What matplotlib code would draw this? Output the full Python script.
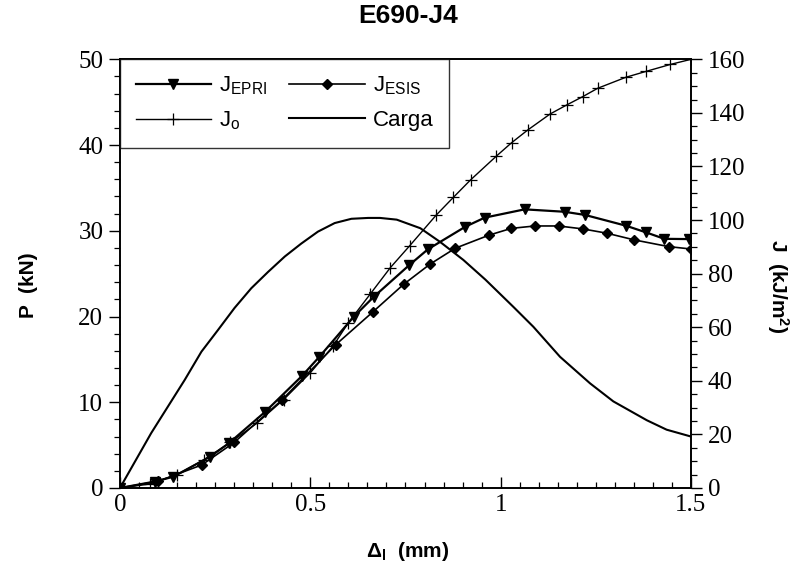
import numpy as np
import matplotlib
matplotlib.use("Agg")
import matplotlib.pyplot as plt
from matplotlib.ticker import MultipleLocator, FormatStrFormatter

plt.rcParams['mathtext.default'] = 'regular'

# Carga (P en kN)
d_carga = [0, 0.082, 0.126, 0.170, 0.214, 0.257, 0.301, 0.345, 0.389, 0.433,
           0.476, 0.520, 0.564, 0.608, 0.652, 0.683, 0.727, 0.789, 0.841, 0.902,
           0.960, 1.034, 1.086, 1.156, 1.235, 1.296, 1.384, 1.436, 1.50]
p_carga = [0, 6.4, 9.5, 12.6, 15.9, 18.4, 21.0, 23.3, 25.2, 27.0,
           28.5, 29.9, 30.9, 31.4, 31.5, 31.5, 31.3, 30.3, 28.7, 26.6,
           24.3, 21.1, 18.8, 15.3, 12.2, 10.1, 7.9, 6.8, 6.0]

# J_EPRI (kJ/m2)
d_epri = [0, 0.092, 0.140, 0.237, 0.286, 0.382, 0.478, 0.524, 0.614, 0.667, 0.760,
          0.809, 0.907, 0.958, 1.063, 1.168, 1.222, 1.329, 1.382, 1.43, 1.494]
j_epri = [0, 2.4, 4.2, 11.7, 16.7, 28.5, 41.8, 49.0, 63.9, 71.4, 83.2,
          89.1, 97.5, 100.9, 104.0, 103.1, 101.9, 97.9, 95.4, 93.0, 92.9]

# J_ESIS
d_esis = [0, 0.10, 0.215, 0.30, 0.425, 0.567, 0.665, 0.745, 0.815, 0.881, 0.970,
          1.028, 1.090, 1.152, 1.216, 1.279, 1.351, 1.441, 1.50]
j_esis = [0, 2.5, 8.6, 17.0, 32.8, 53.5, 65.8, 76.0, 83.6, 89.5, 94.4,
          96.9, 97.8, 97.8, 96.7, 95.1, 92.6, 90.1, 89.2]

# J_0
d_j0 = [0, 0.08, 0.15, 0.22, 0.29, 0.359, 0.43, 0.50, 0.56, 0.60, 0.657, 0.710,
        0.761, 0.831, 0.876, 0.921, 0.989, 1.029, 1.071, 1.130, 1.174, 1.216,
        1.255, 1.329, 1.382, 1.446, 1.50]
j_0 = [0, 1.5, 5.0, 10.5, 17.0, 24.1, 33.0, 43.0, 53.0, 61.7, 72.3, 82.2,
       90.4, 101.9, 108.5, 115.0, 123.9, 128.9, 133.6, 139.6, 143.0, 146.1,
       149.2, 153.3, 155.5, 158.1, 160.0]

fig = plt.figure(figsize=(8.03, 5.71), dpi=100)
ax1 = fig.add_axes([0.1494, 0.1454, 0.7111, 0.7507])
ax2 = ax1.twinx()

h_carga, = ax1.plot(d_carga, p_carga, color='black', lw=1.5, label='Carga')
h_epri, = ax2.plot(d_epri, j_epri, color='black', lw=1.6, marker='v', ms=7,
                   label=r'J$_{EPRI}$')
h_esis, = ax2.plot(d_esis, j_esis, color='black', lw=1.2, marker='D', ms=5,
                   label=r'J$_{ESIS}$')
h_j0, = ax2.plot(d_j0, j_0, color='black', lw=1.0, marker='+', ms=9, mew=0.9,
                 label=r'J$_{o}$')

ax1.set_xlim(0, 1.5)
ax1.set_ylim(0, 50)
ax2.set_ylim(0, 160)

ax1.xaxis.set_major_locator(MultipleLocator(0.5))
ax1.xaxis.set_minor_locator(MultipleLocator(0.05))
ax1.xaxis.set_major_formatter(FormatStrFormatter('%g'))
ax1.yaxis.set_major_locator(MultipleLocator(10))
ax1.yaxis.set_minor_locator(MultipleLocator(2))
ax2.yaxis.set_major_locator(MultipleLocator(20))
ax2.yaxis.set_minor_locator(MultipleLocator(5))

serif = 'Liberation Serif'
ax1.tick_params(axis='x', which='both', direction='in', top=False)
ax1.tick_params(axis='y', which='both', direction='out', right=False)
ax2.tick_params(axis='y', which='both', direction='out')
for ax in (ax1, ax2):
    ax.tick_params(which='major', length=8, width=1.0, labelsize=18, pad=4)
    ax.tick_params(which='minor', length=4.5, width=0.9)
    for lab in ax.get_xticklabels() + ax.get_yticklabels():
        lab.set_fontfamily(serif)
    for s in ax.spines.values():
        s.set_linewidth(1.2)

sans = 'Liberation Sans'
fig.text(0.508, 0.972, 'E690-J4', ha='center', va='center', fontsize=19,
         fontweight='bold', family=sans)
ax1.set_ylabel('P  (kN)', fontsize=15, fontweight='bold', family=sans)
ax1.yaxis.set_label_coords(-0.143, 0.474)
ax2.set_ylabel(r'J  (kJ/m$^2$)', fontsize=15, fontweight='bold', family=sans,
               rotation=-90, va='center')
ax2.yaxis.set_label_coords(1.152, 0.47)
ax1.set_xlabel(r'$\Delta_{l}$  (mm)', fontsize=15, fontweight='bold', family=sans,
               va='center')
ax1.xaxis.set_label_coords(0.504, -0.149)

leg = ax2.legend(handles=[h_epri, h_j0, h_esis, h_carga], ncol=2, loc='upper left',
                 bbox_to_anchor=(0, 1), borderaxespad=0, frameon=True, fancybox=False,
                 handlelength=3.4, columnspacing=1.0, handletextpad=0.35,
                 labelspacing=0.55, borderpad=0.7, prop={'family': sans, 'size': 16})
leg.get_frame().set_edgecolor('black')
leg.get_frame().set_linewidth(1.0)

fig.savefig('out.png', dpi=100)
